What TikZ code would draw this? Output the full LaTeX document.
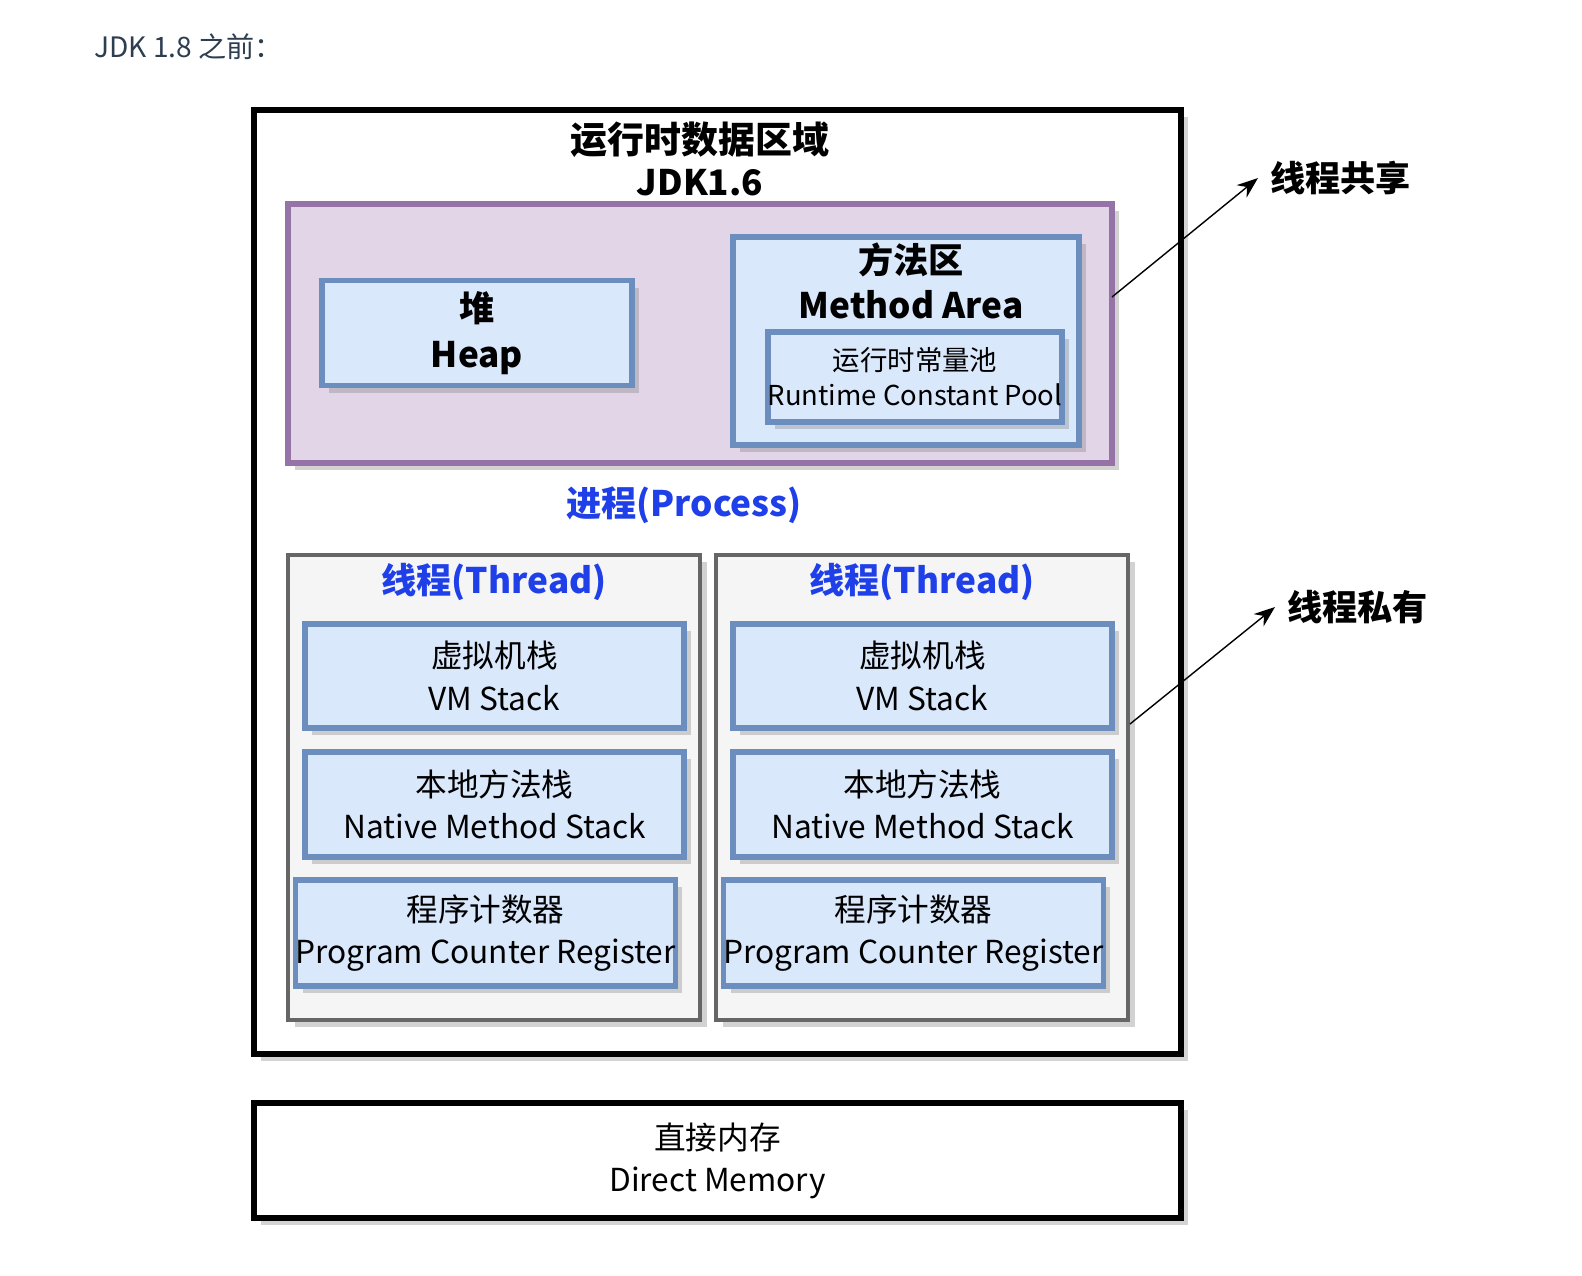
\documentclass[tikz,border=0pt]{standalone}
\usepackage{fontspec}
\setmainfont{Noto Sans CJK SC}
\usetikzlibrary{shadows,arrows.meta}
\definecolor{blueFill}{HTML}{DAE8FC}
\definecolor{blueLine}{HTML}{6C8EBF}
\definecolor{purpFill}{HTML}{E1D5E7}
\definecolor{purpLine}{HTML}{9673A6}
\definecolor{grayFill}{HTML}{F5F5F5}
\definecolor{grayLine}{HTML}{666666}
\definecolor{titleCol}{HTML}{2C3E50}
\definecolor{procBlue}{HTML}{1F3FE8}
\tikzset{
  shade box/.style={drop shadow={opacity=.35, shadow xshift=2pt, shadow yshift=-2pt}},
  area/.style={draw=blueLine, fill=blueFill, line width=1.6pt, shade box, align=center, inner sep=0pt, font=\fontsize{9}{12}\selectfont},
  pool/.style={draw=purpLine, fill=purpFill, line width=1.6pt, shade box},
  thread/.style={draw=grayLine, fill=grayFill, line width=1.4pt, shade box},
  frame/.style={draw=black, fill=white, line width=1.6pt, shade box, align=center, inner sep=0pt},
  blue label/.style={text=procBlue, font=\bfseries\fontsize{10}{12}\selectfont},
  side label/.style={font=\bfseries\fontsize{10}{12}\selectfont, anchor=west},
}
\begin{document}
\begin{tikzpicture}[x=0.01cm,y=-0.01cm]
\useasboundingbox (0,0) rectangle (1582,1276);
\node (title)[anchor=west, text=titleCol, font=\fontsize{8}{10}\selectfont] at (82,47) {JDK 1.8 之前：};
% runtime data area
\draw[frame] (254,110) rectangle (1181,1054);
\node (rtname)[font=\bfseries\fontsize{10.5}{12}\selectfont] at (700,140) {运行时数据区域};
\node (jdk)[font=\bfseries\fontsize{10}{12}\selectfont] at (700,183) {JDK1.6};
\draw[pool] (288,204) rectangle (1112,463);
\node (heap)[area, minimum width=3.10cm, minimum height=1.05cm, font=\bfseries\fontsize{10}{13}\selectfont] at (477,333) {堆\\Heap};
\node (method)[area, minimum width=3.46cm, minimum height=2.08cm] at (906,341) {};
\node (mtext)[font=\bfseries\fontsize{10}{13}\selectfont, align=center] at (911,281) {方法区\\Method Area};
\node (rcp)[area, minimum width=2.90cm, minimum height=0.90cm, font=\fontsize{7.8}{10}\selectfont] at (915,377) {运行时常量池\\Runtime Constant Pool};
\node (process)[blue label] at (684,505) {进程(Process)};
% threads
\foreach \name/\x in {left/0, right/428}{
  \draw[thread] (288+\x,555) rectangle (700+\x,1020);
  \node (thr\name)[blue label] at (494+\x,582) {线程(Thread)};
  \node (vm\name)[area, minimum width=3.79cm, minimum height=1.04cm] at (494.5+\x,676) {虚拟机栈\\VM Stack};
  \node (nat\name)[area, minimum width=3.79cm, minimum height=1.05cm] at (494.5+\x,804.5) {本地方法栈\\Native Method Stack};
  \node (pcr\name)[area, minimum width=3.79cm, minimum height=1.06cm] at (485.5+\x,933) {程序计数器\\Program Counter Register};
}
% direct memory
\node (direct)[frame, minimum width=9.27cm, minimum height=1.15cm, font=\fontsize{9}{12}\selectfont] at (717.5,1160.5) {直接内存\\Direct Memory};
% side notes
\coordinate (shareFrom) at (1112,297);
\coordinate (privFrom) at (1130,724);
\node (share)[side label] at (1258,178) {线程共享};
\node (private)[side label] at (1275,607) {线程私有};
\draw[-{Stealth[length=6pt]}, thin] (shareFrom) -- (share.west);
\draw[-{Stealth[length=6pt]}, thin] (privFrom) -- (private.west);
\end{tikzpicture}
\end{document}
